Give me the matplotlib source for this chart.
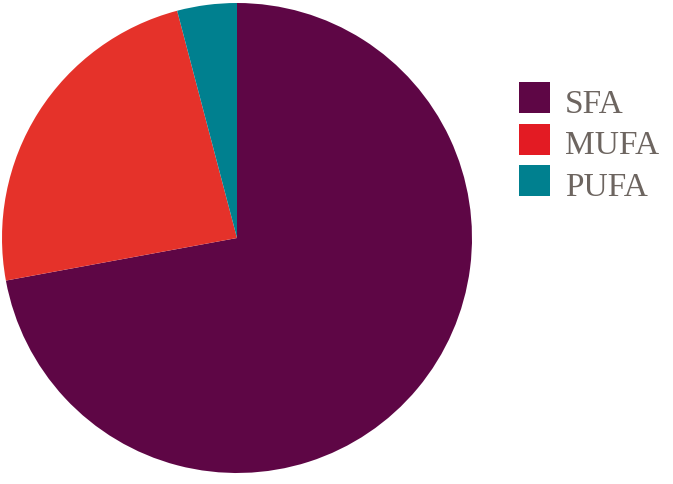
import matplotlib
matplotlib.use("Agg")
import matplotlib.pyplot as plt
from matplotlib.patches import Rectangle

labels = ["SFA", "MUFA", "PUFA"]
values = [72.1, 23.8, 4.1]
pie_colors = ["#5e0645", "#e5322a", "#00808f"]
legend_colors = ["#5e0645", "#e31b23", "#00808f"]

W, H = 673, 485
fig = plt.figure(figsize=(W / 100, H / 100), dpi=100)
cx, cy, r = 237, 239, 235
ax = fig.add_axes([(cx - r) / W, (H - cy - r) / H, 2 * r / W, 2 * r / H])
ax.pie(values, colors=pie_colors, startangle=90, counterclock=False,
       wedgeprops=dict(linewidth=0))
ax.set_aspect("equal")
ax.set_xlim(-1, 1)
ax.set_ylim(-1, 1)
ax.axis("off")

tops = [83, 124.5, 166]
for lab, col, t in zip(labels, legend_colors, tops):
    fig.patches.append(Rectangle((519 / W, (H - t - 31) / H), 31 / W, 31 / H,
                                 transform=fig.transFigure, facecolor=col,
                                 edgecolor="none"))
    fig.text(565 / W, (H - t - 30) / H, lab, fontsize=24, color="#6d6560",
             family="Liberation Serif", ha="left", va="baseline")

fig.savefig("out.png", dpi=100)
